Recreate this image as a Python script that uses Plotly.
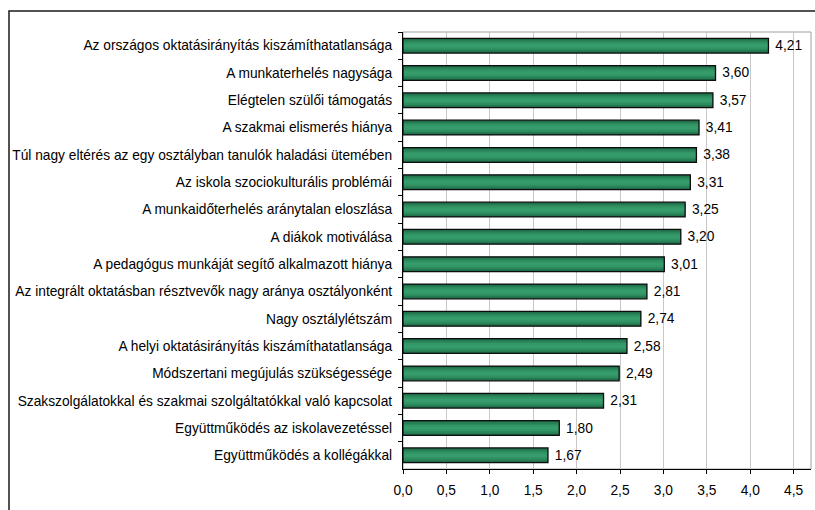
import plotly.graph_objects as go

categories = [
    "Az országos oktatásirányítás kiszámíthatatlansága",
    "A munkaterhelés nagysága",
    "Elégtelen szülői támogatás",
    "A szakmai elismerés hiánya",
    "Túl nagy eltérés az egy osztályban tanulók haladási ütemében",
    "Az iskola szociokulturális problémái",
    "A munkaidőterhelés aránytalan eloszlása",
    "A diákok motiválása",
    "A pedagógus munkáját segítő alkalmazott hiánya",
    "Az integrált oktatásban résztvevők nagy aránya osztályonként",
    "Nagy osztálylétszám",
    "A helyi oktatásirányítás kiszámíthatatlansága",
    "Módszertani megújulás szükségessége",
    "Szakszolgálatokkal és szakmai szolgáltatókkal való kapcsolat",
    "Együttműködés az iskolavezetéssel",
    "Együttműködés a kollégákkal",
]
values = [4.21, 3.60, 3.57, 3.41, 3.38, 3.31, 3.25, 3.20, 3.01, 2.81, 2.74, 2.58, 2.49, 2.31, 1.80, 1.67]
x_ticks = [0.0, 0.5, 1.0, 1.5, 2.0, 2.5, 3.0, 3.5, 4.0, 4.5]

FONT = "Liberation Sans, Arial, sans-serif"
FS = 13.75
BAR_W = 0.54

fig = go.Figure()

# shaded bar body: darker edges, lighter centre band
shades = [(BAR_W, "#1d6a46"), (0.44, "#257a53"), (0.34, "#2c8a5d"), (0.22, "#329666"), (0.10, "#369c6b")]
for w, c in shades:
    fig.add_trace(go.Bar(
        x=values, y=categories, orientation="h", width=w,
        marker=dict(color=c, line=dict(width=0)),
        hoverinfo="skip",
    ))

# outline and value labels
fig.add_trace(go.Bar(
    x=values, y=categories, orientation="h", width=BAR_W,
    marker=dict(color="rgba(0,0,0,0)", line=dict(color="#0d0d0d", width=1.3)),
    texttemplate=" %{x:.2f}",
    textposition="outside",
    constraintext="none",
    textfont=dict(family=FONT, size=FS, color="#000000"),
    cliponaxis=False,
    hoverinfo="skip",
))

W, H = 815, 510
ml, mr, mt, mb = 403, 4, 32, 41
pw, ph = W - ml - mr, H - mt - mb

# outer chart frame
fig.add_shape(type="rect", xref="paper", yref="paper",
              x0=(9 - ml) / pw, x1=1.2, y0=-0.3, y1=1 + (mt - 11) / ph,
              line=dict(color="#1a1a1a", width=1.5), fillcolor="rgba(0,0,0,0)", layer="below")
# plot area border
fig.add_shape(type="rect", xref="paper", yref="paper", x0=0, x1=1, y0=0, y1=1,
              line=dict(color="#a0a0a0", width=1), fillcolor="rgba(0,0,0,0)", layer="below")

fig.update_layout(
    width=W, height=H,
    margin=dict(l=ml, r=mr, t=mt, b=mb),
    paper_bgcolor="white", plot_bgcolor="white",
    separators=", ",
    showlegend=False,
    barmode="overlay",
    font=dict(family=FONT, size=FS, color="#000000"),
    xaxis=dict(
        range=[0, 4.7],
        tickvals=x_ticks,
        tickformat=".1f",
        showgrid=True, gridcolor="#c8c8c8", gridwidth=1,
        showline=True, linecolor="#000000", linewidth=1.2,
        ticks="outside", ticklen=4, tickcolor="#000000",
        ticklabelstandoff=4,
        zeroline=False,
        tickfont=dict(family=FONT, size=FS, color="#000000"),
    ),
    yaxis=dict(
        categoryorder="array", categoryarray=categories,
        autorange="reversed",
        showline=True, linecolor="#000000", linewidth=1.2,
        ticks="outside", ticklen=4, tickcolor="#000000",
        tickson="boundaries",
        ticklabelstandoff=7,
        showgrid=False,
        tickfont=dict(family=FONT, size=FS, color="#000000"),
    ),
)

fig.write_html("out.html")
